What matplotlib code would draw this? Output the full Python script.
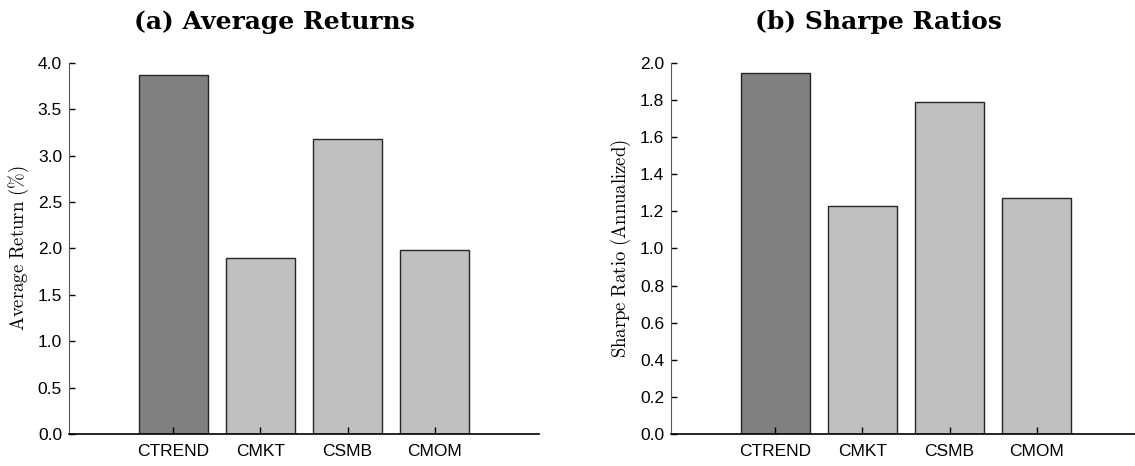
import matplotlib
matplotlib.use("Agg")
import matplotlib.pyplot as plt
import numpy as np

plt.rcParams["mathtext.fontset"] = "cm"

factors = ["CTREND", "CMKT", "CSMB", "CMOM"]
avg_returns = [3.864, 1.894, 3.179, 1.987]
sharpe_ratios = [1.944, 1.231, 1.787, 1.270]

bar_colors = ["#808080", "#c0c0c0", "#c0c0c0", "#c0c0c0"]

W, H = 1135, 466
fig = plt.figure(figsize=(W / 100, H / 100), dpi=100)


def px_axes(left, bottom, top, width=470):
    # axes box given in pixel coordinates (top-left origin)
    return fig.add_axes([left / W, (H - bottom) / H, width / W, (bottom - top) / H])


def bar_panel(ax, values, yticks, ylabel):
    x = np.arange(len(factors))
    ax.bar(x, values, width=0.8, color=bar_colors, edgecolor="0.15", linewidth=1.0)
    ax.set_xlim(-1.2, 4.2)
    ax.set_ylim(0, yticks[-1])
    ax.set_xticks(x)
    ax.set_xticklabels(factors, fontfamily="Liberation Sans", fontsize=12.5)
    ax.set_yticks(yticks)
    ax.set_yticklabels(["%.1f" % t for t in yticks], fontfamily="Liberation Sans", fontsize=12.5)
    ax.tick_params(axis="y", direction="in", length=4, width=1, pad=5)
    ax.tick_params(axis="x", direction="in", length=5, width=1, pad=7)
    ax.spines["top"].set_visible(False)
    ax.spines["right"].set_visible(False)
    ax.spines["left"].set_color("0.35")
    ax.spines["bottom"].set_linewidth(1.2)
    ax.set_ylabel(ylabel, fontsize=13.5, labelpad=5)


ax1 = px_axes(69, 434.3, 62.7)
bar_panel(ax1, avg_returns, np.arange(0, 4.01, 0.5), r"$\mathrm{Average\ Return\ (\%)}$")

ax2 = px_axes(671, 434.3, 62.7)
bar_panel(ax2, sharpe_ratios, np.arange(0, 2.01, 0.2), r"$\mathrm{Sharpe\ Ratio\ (Annualized)}$")

fig.text(274.5 / W, (H - 29.5) / H, "(a) Average Returns", fontfamily="DejaVu Serif",
         fontweight="bold", fontsize=18, ha="center", va="baseline")
fig.text(878.5 / W, (H - 29.5) / H, "(b) Sharpe Ratios", fontfamily="DejaVu Serif",
         fontweight="bold", fontsize=18, ha="center", va="baseline")

fig.savefig("out.png", dpi=100)
